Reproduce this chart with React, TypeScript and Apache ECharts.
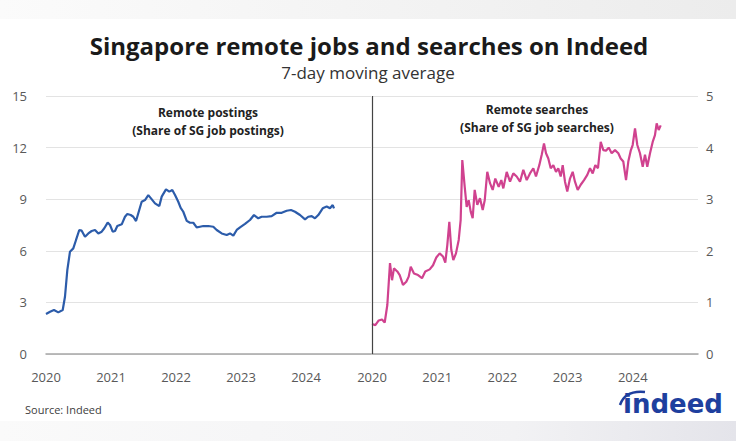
import React, { useEffect, useRef } from "react";
import * as echarts from "echarts";

const titleText = "Singapore remote jobs and searches on Indeed";
const subtitleText = "7-day moving average";
const sourceText = "Source: Indeed";
const leftNote = ["Remote postings", "(Share of SG job postings)"];
const rightNote = ["Remote searches", "(Share of SG job searches)"];

const postingsYears = [
  2020.0, 2020.062, 2020.123, 2020.189, 2020.257, 2020.292, 2020.328, 2020.369, 2020.42, 2020.462,
  2020.512, 2020.549, 2020.6, 2020.651, 2020.703, 2020.754, 2020.805, 2020.857, 2020.897, 2020.949,
  2020.985, 2021.026, 2021.062, 2021.097, 2021.165, 2021.215, 2021.251, 2021.303, 2021.343, 2021.385,
  2021.42, 2021.472, 2021.523, 2021.574, 2021.615, 2021.677, 2021.743, 2021.78, 2021.846, 2021.897,
  2021.943, 2021.985, 2022.035, 2022.072, 2022.112, 2022.165, 2022.215, 2022.266, 2022.318, 2022.369,
  2022.42, 2022.497, 2022.574, 2022.626, 2022.703, 2022.78, 2022.831, 2022.882, 2022.934, 2022.985,
  2023.062, 2023.138, 2023.2, 2023.266, 2023.318, 2023.395, 2023.472, 2023.549, 2023.626, 2023.703,
  2023.769, 2023.831, 2023.908, 2023.985, 2024.035, 2024.088, 2024.138, 2024.189, 2024.257, 2024.318,
  2024.369, 2024.411, 2024.431,
];
const postingsValues = [
  2.33, 2.46, 2.56, 2.42, 2.56, 3.33, 4.88, 5.95, 6.14, 6.63,
  7.21, 7.17, 6.82, 7.01, 7.15, 7.21, 7.01, 7.11, 7.31, 7.64,
  7.5, 7.11, 7.15, 7.44, 7.54, 7.98, 8.14, 8.08, 7.98, 7.73,
  8.18, 8.85, 8.95, 9.24, 9.05, 8.76, 8.6, 9.15, 9.57, 9.44,
  9.53, 9.24, 8.85, 8.5, 8.27, 7.74, 7.63, 7.63, 7.36, 7.4,
  7.44, 7.44, 7.4, 7.21, 7.01, 6.92, 7.01, 6.88, 7.21, 7.36,
  7.56, 7.79, 8.08, 7.89, 7.98, 7.98, 8.02, 8.21, 8.21, 8.33,
  8.37, 8.27, 8.08, 7.83, 7.98, 8.02, 7.89, 8.08, 8.47, 8.57,
  8.47, 8.66, 8.47,
];

const searchesYears = [
  2020.0, 2020.051, 2020.103, 2020.153, 2020.195, 2020.235, 2020.276, 2020.307, 2020.337, 2020.388,
  2020.425, 2020.475, 2020.526, 2020.563, 2020.594, 2020.644, 2020.706, 2020.767, 2020.817, 2020.885,
  2020.936, 2020.986, 2021.038, 2021.089, 2021.124, 2021.155, 2021.186, 2021.216, 2021.247, 2021.288,
  2021.33, 2021.36, 2021.385, 2021.422, 2021.452, 2021.483, 2021.514, 2021.544, 2021.575, 2021.615,
  2021.656, 2021.698, 2021.729, 2021.768, 2021.81, 2021.851, 2021.891, 2021.943, 2021.983, 2022.014,
  2022.066, 2022.117, 2022.167, 2022.219, 2022.27, 2022.321, 2022.373, 2022.423, 2022.474, 2022.515,
  2022.566, 2022.603, 2022.638, 2022.669, 2022.704, 2022.741, 2022.781, 2022.822, 2022.857, 2022.894,
  2022.925, 2022.96, 2022.995, 2023.037, 2023.078, 2023.113, 2023.155, 2023.201, 2023.252, 2023.302,
  2023.344, 2023.385, 2023.425, 2023.466, 2023.508, 2023.548, 2023.589, 2023.63, 2023.676, 2023.727,
  2023.778, 2023.814, 2023.854, 2023.896, 2023.931, 2023.968, 2023.998, 2024.034, 2024.069, 2024.11,
  2024.152, 2024.187, 2024.222, 2024.264, 2024.305, 2024.34, 2024.366, 2024.397, 2024.428,
];
const searchesValues = [
  0.58, 0.56, 0.65, 0.67, 0.61, 0.95, 1.76, 1.43, 1.66, 1.6,
  1.53, 1.34, 1.4, 1.5, 1.69, 1.56, 1.53, 1.47, 1.6, 1.64,
  1.72, 1.87, 1.95, 1.89, 1.77, 2.11, 2.56, 2.02, 1.82, 1.95,
  2.21, 2.6, 3.76, 3.24, 2.85, 2.98, 2.76, 2.63, 3.18, 2.89,
  3.02, 2.79, 2.98, 3.53, 3.31, 3.18, 3.4, 3.24, 3.37, 3.21,
  3.53, 3.34, 3.5, 3.44, 3.34, 3.57, 3.37, 3.5, 3.6, 3.44,
  3.66, 3.86, 4.08, 3.89, 3.79, 3.6, 3.66, 3.53, 3.6, 3.44,
  3.66, 3.34, 3.15, 3.4, 3.53, 3.34, 3.18, 3.28, 3.37, 3.47,
  3.6, 3.5, 3.66, 3.6, 4.11, 3.95, 3.94, 4.0, 3.89, 3.95,
  3.89, 3.79, 3.73, 3.37, 3.73, 3.94, 4.05, 4.37, 4.05, 3.89,
  3.63, 3.86, 3.63, 3.89, 4.11, 4.24, 4.47, 4.34, 4.43,
];

const yearTicks = [2020, 2021, 2022, 2023, 2024];

const FONT = "'Open Sans', 'Noto Sans', sans-serif";

export default function App() {
  const ref = useRef<HTMLDivElement>(null);
  useEffect(() => {
    if (!ref.current) return;
    const chart = echarts.init(ref.current, undefined, { renderer: "svg" });
    const xAxisBase = (gridIndex: number) => ({
      type: "value",
      gridIndex,
      min: 2020,
      max: 2025,
      interval: 1,
      axisLine: { show: true, lineStyle: { color: "#a6a6a6", width: 1.5 } },
      axisTick: { show: false },
      splitLine: { show: false },
      axisLabel: {
        color: "#595959",
        fontSize: 13,
        fontFamily: FONT,
        margin: 16,
        showMaxLabel: false,
        formatter: (v: number) => (yearTicks.includes(Math.round(v)) ? String(Math.round(v)) : ""),
      },
    });
    chart.setOption({
      animation: false,
      backgroundColor: "#ffffff",
      grid: [
        { left: 46, right: 365, top: 96, bottom: 87 },
        { left: 372, right: 38, top: 96, bottom: 87 },
      ],
      xAxis: [xAxisBase(0), xAxisBase(1)],
      yAxis: [
        {
          type: "value",
          gridIndex: 0,
          min: 0,
          max: 15,
          interval: 3,
          axisLine: { show: false },
          axisTick: { show: false },
          splitLine: { lineStyle: { color: "#e3e3e3", width: 1 } },
          axisLabel: { color: "#595959", fontSize: 13, fontFamily: FONT, margin: 19 },
        },
        {
          type: "value",
          gridIndex: 1,
          position: "right",
          min: 0,
          max: 5,
          interval: 1,
          axisLine: { show: false },
          axisTick: { show: false },
          splitLine: { lineStyle: { color: "#e3e3e3", width: 1 } },
          axisLabel: { color: "#595959", fontSize: 13, fontFamily: FONT, margin: 8 },
        },
      ],
      series: [
        {
          type: "line",
          xAxisIndex: 0,
          yAxisIndex: 0,
          data: postingsYears.map((y, i) => [y, postingsValues[i]]),
          showSymbol: false,
          symbol: "none",
          lineStyle: { color: "#2c5caa", width: 2.2 },
          z: 3,
        },
        {
          type: "line",
          xAxisIndex: 1,
          yAxisIndex: 1,
          data: searchesYears.map((y, i) => [y, searchesValues[i]]),
          showSymbol: false,
          symbol: "none",
          lineStyle: { color: "#d0428f", width: 2.2 },
          z: 3,
          markLine: {
            silent: true,
            symbol: ["none", "none"],
            label: { show: false },
            lineStyle: { color: "#444444", type: "solid", width: 1.2 },
            data: [{ xAxis: 2020 }],
          },
        },
      ],
      graphic: [
        {
          type: "rect",
          left: 0,
          top: 0,
          shape: { width: 736, height: 19 },
          style: {
            fill: new echarts.graphic.LinearGradient(0, 0, 1, 0, [
              { offset: 0, color: "#fbfbfb" },
              { offset: 1, color: "#ececec" },
            ]),
          },
          z: -1,
        },
        {
          type: "rect",
          left: 0,
          top: 421,
          shape: { width: 736, height: 20 },
          style: {
            fill: new echarts.graphic.LinearGradient(0, 0, 1, 0, [
              { offset: 0, color: "#fafafa" },
              { offset: 0.7, color: "#f2f2f4" },
              { offset: 1, color: "#e4e4ea" },
            ]),
          },
          z: -1,
        },
        {
          type: "text",
          x: 369,
          y: 45,
          style: {
            text: titleText,
            fill: "#1a1a1a",
            font: `bold 24px ${FONT}`,
            textAlign: "center",
            textVerticalAlign: "middle",
          },
        },
        {
          type: "text",
          x: 368,
          y: 72,
          style: {
            text: subtitleText,
            fill: "#333333",
            font: `17px ${FONT}`,
            textAlign: "center",
            textVerticalAlign: "middle",
          },
        },
        {
          type: "text",
          x: 208,
          y: 112,
          style: { text: leftNote[0], fill: "#222222", font: `bold 12px ${FONT}`, textAlign: "center", textVerticalAlign: "middle" },
        },
        {
          type: "text",
          x: 208,
          y: 130,
          style: { text: leftNote[1], fill: "#222222", font: `bold 12px ${FONT}`, textAlign: "center", textVerticalAlign: "middle" },
        },
        {
          type: "text",
          x: 537,
          y: 109,
          style: { text: rightNote[0], fill: "#222222", font: `bold 12px ${FONT}`, textAlign: "center", textVerticalAlign: "middle" },
        },
        {
          type: "text",
          x: 537,
          y: 127,
          style: { text: rightNote[1], fill: "#222222", font: `bold 12px ${FONT}`, textAlign: "center", textVerticalAlign: "middle" },
        },
        {
          type: "text",
          x: 25,
          y: 409,
          style: { text: sourceText, fill: "#404040", font: `11px ${FONT}`, textAlign: "left", textVerticalAlign: "middle" },
        },
        {
          type: "text",
          x: 623,
          y: 417,
          style: {
            text: "indeed",
            fill: "#1e3f9e",
            font: `bold 26px 'DejaVu Sans', Roboto, sans-serif`,
            textAlign: "left",
            textVerticalAlign: "bottom",
          },
        },
        {
          type: "bezierCurve",
          shape: { x1: 620, y1: 405, cpx1: 625, cpy1: 390, x2: 645, y2: 392 },
          style: { stroke: "#1e3f9e", lineWidth: 2.5, fill: "none" },
        },
      ],
    });
    return () => chart.dispose();
  }, []);
  return (
    <div
      ref={ref}
      style={{ position: "absolute", left: 0, top: 0, width: 736, height: 441, background: "#ffffff" }}
    />
  );
}
